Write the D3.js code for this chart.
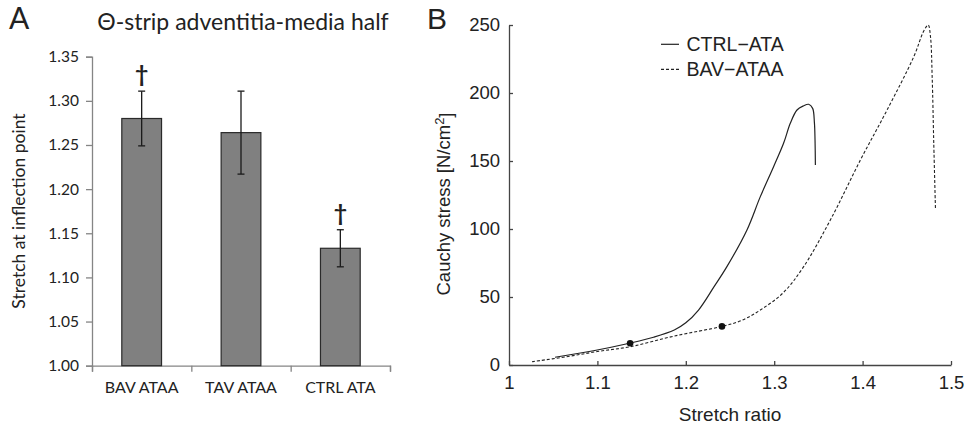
<!DOCTYPE html>
<html>
<head>
<meta charset="utf-8">
<script src="https://cdn.jsdelivr.net/npm/d3@7"></script>
<style>
	body { margin: 0; background: #fff; }
	#graph { display: block; }
	.panelA text { font-family: Lato, "Open Sans", sans-serif; fill: #222; }
	.panelB text { font-family: "Liberation Sans", Arial, sans-serif; fill: #222; }
</style>
</head>
<body>
<svg id="graph"></svg>
<script>
// panel A data, bars with error bars
const groups = ["BAV ATAA", "TAV ATAA", "CTRL ATA"];
const stretchMean = [1.28, 1.264, 1.133];
const stretchErr = [0.031, 0.047, 0.021];
const signif = ["†", "", "†"];
const yTicksA = [1.0, 1.05, 1.1, 1.15, 1.2, 1.25, 1.3, 1.35];

// panel B data, stress-stretch curves
const ctrlStretch = [1.052, 1.0955, 1.1375, 1.1635, 1.187, 1.2, 1.2144, 1.232, 1.2465, 1.2692, 1.2843, 1.2993, 1.3106, 1.3182, 1.3258, 1.333, 1.339, 1.3435, 1.3455, 1.3462, 1.3466];
const ctrlStress = [5.7, 10.5, 16.2, 20.4, 25.7, 31, 40.4, 57.6, 72.3, 99.3, 123.8, 145.8, 163, 177.7, 187.5, 190.5, 191.7, 188.7, 178, 165, 147];
const bavStretch = [1.026, 1.065, 1.1, 1.1375, 1.187, 1.2409, 1.2625, 1.2843, 1.31, 1.3333, 1.3635, 1.3975, 1.4277, 1.4579, 1.4692, 1.4742, 1.4768, 1.4787, 1.4805, 1.4824];
const bavStress = [2.4, 6.1, 9.9, 13.5, 21.3, 28.4, 32.6, 40.4, 53, 72.3, 106.6, 150.7, 187.5, 226.7, 245.6, 250, 241.4, 212, 163, 115.2];
const inflStretch = [1.137, 1.2409];
const inflStress = [16.0, 28.4];
const xTicksB = [1, 1.1, 1.2, 1.3, 1.4, 1.5];
const yTicksB = [0, 50, 100, 150, 200, 250];
const legendNames = ["CTRL\u2212ATA", "BAV\u2212ATAA"];

document.addEventListener("DOMContentLoaded", function () {
	const w = 968;
	const h = 431;
	const svg = d3.select("#graph").attr("width", w).attr("height", h);
	svg.append("rect").attr("width", w).attr("height", h).attr("fill", "#fff");

	// ---------- panel A ----------
	const gA = svg.append("g").attr("class", "panelA");
	const xA = d3.scaleBand().domain(groups).range([92, 390]).paddingInner(0.6).paddingOuter(0.3);
	const xEdge = d3.scaleLinear().domain([0, groups.length]).range([92, 390]); // category boundaries for ticks
	const yA = d3.scaleLinear().domain([1.0, 1.35]).range([365.7, 56.7]);

	// y axis
	const yAxisA = gA.append("g")
		.attr("transform", "translate(92,0)")
		.call(d3.axisLeft(yA).tickValues(yTicksA).tickFormat(d3.format(".2f")).tickSizeOuter(0).tickSize(6).tickPadding(7));
	yAxisA.selectAll("text").style("font-size", "15.5px");

	// x axis: tick marks at boundaries, labels centred on bars
	gA.append("g")
		.attr("transform", "translate(0,365.7)")
		.call(d3.axisBottom(xEdge).tickValues(d3.range(groups.length + 1)).tickFormat("").tickSizeOuter(0).tickSize(6));
	gA.append("g")
		.attr("transform", "translate(0,365.7)")
		.call(d3.axisBottom(xA).tickSize(0).tickPadding(16))
		.call((g) => g.select(".domain").remove())
		.selectAll("text").style("font-size", "16px");
	gA.selectAll(".domain, .tick line").attr("stroke", "#858585").attr("stroke-width", 1.3);

	// bars
	gA.selectAll("rect.bar")
		.data(groups)
		.enter()
		.append("rect")
		.attr("class", "bar")
		.attr("x", (d) => xA(d))
		.attr("y", (d, i) => yA(stretchMean[i]))
		.attr("width", xA.bandwidth())
		.attr("height", (d, i) => yA(1.0) - yA(stretchMean[i]))
		.attr("fill", "#808080")
		.attr("stroke", "#2a2a2a")
		.attr("stroke-width", 1.2);

	// error bars
	const cx = (d) => xA(d) + xA.bandwidth() / 2;
	const err = gA.selectAll("g.err").data(groups).enter().append("g").attr("class", "err")
		.attr("stroke", "#1a1a1a").attr("stroke-width", 1.3);
	err.append("line")
		.attr("x1", cx).attr("x2", cx)
		.attr("y1", (d, i) => yA(stretchMean[i] + stretchErr[i]))
		.attr("y2", (d, i) => yA(stretchMean[i] - stretchErr[i]));
	err.append("line")
		.attr("x1", (d) => cx(d) - 3.5).attr("x2", (d) => cx(d) + 3.5)
		.attr("y1", (d, i) => yA(stretchMean[i] + stretchErr[i]))
		.attr("y2", (d, i) => yA(stretchMean[i] + stretchErr[i]));
	err.append("line")
		.attr("x1", (d) => cx(d) - 3.5).attr("x2", (d) => cx(d) + 3.5)
		.attr("y1", (d, i) => yA(stretchMean[i] - stretchErr[i]))
		.attr("y2", (d, i) => yA(stretchMean[i] - stretchErr[i]));

	// dagger marks
	gA.selectAll("text.sig")
		.data(groups)
		.enter()
		.append("text")
		.attr("class", "sig")
		.attr("x", cx)
		.attr("y", (d, i) => yA(stretchMean[i] + stretchErr[i]) - 18)
		.attr("text-anchor", "middle")
		.attr("dominant-baseline", "central")
		.style("font-size", "23px")
		.style("font-weight", "bold")
		.text((d, i) => signif[i]);

	// titles
	gA.append("text").attr("x", 243).attr("y", 30).attr("text-anchor", "middle")
		.style("font-size", "23px").text("\u0398-strip adventitia-media half");
	gA.append("text").attr("x", 9).attr("y", 29).style("font-size", "30px").text("A");
	gA.append("text")
		.attr("transform", "translate(25,211) rotate(-90)")
		.attr("text-anchor", "middle")
		.style("font-size", "17.5px")
		.text("Stretch at inflection point");

	// ---------- panel B ----------
	const gB = svg.append("g").attr("class", "panelB");
	const xB = d3.scaleLinear().domain([1, 1.5]).range([509, 951]);
	const yB = d3.scaleLinear().domain([0, 250]).range([365, 25]);

	gB.append("g")
		.attr("transform", "translate(0,365)")
		.call(d3.axisBottom(xB).tickValues(xTicksB).tickFormat(d3.format("")).tickSize(-4).tickSizeOuter(0).tickPadding(11));
	gB.append("g")
		.attr("transform", "translate(509,0)")
		.call(d3.axisLeft(yB).tickValues(yTicksB).tickSize(-4).tickSizeOuter(0).tickPadding(9));
	gB.selectAll(".tick text").style("font-size", "18.5px");
	gB.selectAll(".domain, .tick line").attr("stroke", "#444").attr("stroke-width", 1.3);

	const line = d3.line()
		.x((d) => xB(d[0]))
		.y((d) => yB(d[1]))
		.curve(d3.curveCatmullRom.alpha(0.5));

	gB.append("path")
		.datum(ctrlStretch.map((s, i) => [s, ctrlStress[i]]))
		.attr("d", line)
		.attr("fill", "none")
		.attr("stroke", "#222")
		.attr("stroke-width", 1.2);
	gB.append("path")
		.datum(bavStretch.map((s, i) => [s, bavStress[i]]))
		.attr("d", line)
		.attr("fill", "none")
		.attr("stroke", "#222")
		.attr("stroke-width", 1.1)
		.attr("stroke-dasharray", "3,2");

	// inflection points
	gB.selectAll("circle.infl")
		.data(inflStretch)
		.enter()
		.append("circle")
		.attr("class", "infl")
		.attr("cx", (d) => xB(d))
		.attr("cy", (d, i) => yB(inflStress[i]))
		.attr("r", 3.3)
		.attr("fill", "#111");

	// legend
	const leg = gB.selectAll("g.leg").data(legendNames).enter().append("g").attr("class", "leg")
		.attr("transform", (d, i) => `translate(661,${44.3 + i * 25})`);
	leg.append("line")
		.attr("x1", 0).attr("x2", 18)
		.attr("stroke", "#222").attr("stroke-width", 1.2)
		.attr("stroke-dasharray", (d, i) => (i === 0 ? null : "3,2"));
	leg.append("text")
		.attr("x", 25.5)
		.attr("dy", "0.35em")
		.style("font-size", "19.5px")
		.text((d) => d);

	// axis titles
	gB.append("text").attr("x", 730).attr("y", 421).attr("text-anchor", "middle")
		.style("font-size", "19px").text("Stretch ratio");
	const yTitle = gB.append("text")
		.attr("transform", "translate(450,204) rotate(-90)")
		.attr("text-anchor", "middle")
		.style("font-size", "18.5px");
	yTitle.append("tspan").text("Cauchy stress [N/cm");
	yTitle.append("tspan").attr("dy", "-0.45em").style("font-size", "13px").text("2");
	yTitle.append("tspan").attr("dy", "0.45em").text("]");
	gB.append("text").attr("x", 427).attr("y", 29).style("font-size", "30px").text("B");
});
</script>
</body>
</html>
